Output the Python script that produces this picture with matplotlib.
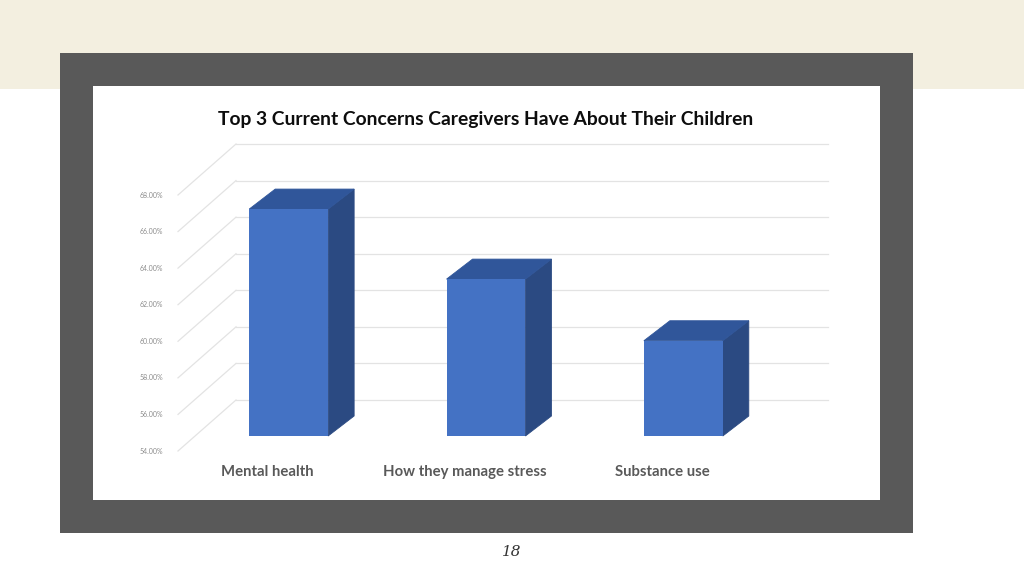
import matplotlib
matplotlib.use("Agg")
import matplotlib.pyplot as plt
from matplotlib.patches import Rectangle, Polygon
from matplotlib.transforms import ScaledTranslation

# ---- data ----
categories = ["Mental health", "How they manage stress", "Substance use"]
values = [66.41, 62.58, 59.21]
tick_values = [54, 56, 58, 60, 62, 64, 66, 68]
tick_labels = ["54.00%", "56.00%", "58.00%", "60.00%", "62.00%", "64.00%", "66.00%", "68.00%"]
title = "Top 3 Current Concerns Caregivers Have About Their Children"
page_number = "18"

W, H = 1024, 576
DPI = 100
fig = plt.figure(figsize=(W / DPI, H / DPI), dpi=DPI, facecolor="white")

def fx(px):
    return px / W

def fy(py):
    return 1 - py / H

def frect(x0, y0, x1, y1, color, z=0):
    fig.add_artist(Rectangle((fx(x0), fy(y1)), fx(x1) - fx(x0), fy(y0) - fy(y1),
                             transform=fig.transFigure, facecolor=color,
                             edgecolor="none", zorder=z))

# slide background
frect(0, 0, W, 89, "#F3EFE0", z=0)
frect(60, 53, 913, 533, "#595959", z=1)
frect(93, 86, 880, 500, "#FFFFFF", z=2)

# ---- plot axes (bar front plane) ----
ax_l, ax_r = 190, 782
ax_b, ax_t = 436, 180
ax = fig.add_axes([fx(ax_l), fy(ax_b), fx(ax_r) - fx(ax_l), fy(ax_t) - fy(ax_b)])
ax.set_zorder(3)
ax.patch.set_visible(False)
ax.set_axis_off()
ax.set_xlim(-0.5, 2.5)
ax.set_ylim(54, 68)

def shift(dx_px, dy_px):
    return ax.transData + ScaledTranslation(dx_px / DPI, dy_px / DPI, fig.dpi_scale_trans)

back = shift(46, 36)      # back wall plane
front = shift(-12, -15)   # label (front) plane

grid_c = "#E3E3E3"
xmin, xmax = ax.get_xlim()
for v in tick_values:
    ax.plot([xmin, xmax], [v, v], color=grid_c, lw=0.9, transform=back,
            zorder=1, clip_on=False)
    # diagonal side-wall line from front plane to back plane
    p0 = front.transform((xmin, v))
    p1 = back.transform((xmin, v))
    ax.plot([p0[0], p1[0]], [p0[1], p1[1]], color=grid_c, lw=0.9,
            transform=None, zorder=1, clip_on=False)

for v, lab in zip(tick_values, tick_labels):
    ax.text(xmin, v, lab, transform=front + ScaledTranslation(-15 / DPI, 0, fig.dpi_scale_trans),
            ha="right", va="center", fontsize=5, color="#8C8C8C", family="Lato")

# ---- 3D-looking bars ----
bar_w = 0.4
depth_dx, depth_dy = 26, 20  # pixels
c_front, c_top, c_side = "#4472C4", "#30569A", "#2B4A82"
base = ax.get_ylim()[0]
for i, v in enumerate(values):
    x0, x1 = i - bar_w / 2, i + bar_w / 2
    pts = ax.transData.transform([(x0, base), (x1, base), (x1, v), (x0, v)])
    (bl, br, tr, tl) = [tuple(p) for p in pts]
    def d(p):
        return (p[0] + depth_dx, p[1] + depth_dy)
    side = Polygon([br, tr, d(tr), d(br)], closed=True, facecolor=c_side,
                   edgecolor=c_side, lw=0.6, transform=None, zorder=4, clip_on=False)
    top = Polygon([tl, tr, d(tr), d(tl)], closed=True, facecolor=c_top,
                  edgecolor=c_top, lw=0.6, transform=None, zorder=4, clip_on=False)
    ax.add_patch(side)
    ax.add_patch(top)
    ax.add_patch(Rectangle((x0, base), bar_w, v - base, facecolor=c_front,
                           edgecolor="none", zorder=5, clip_on=False))

# category labels
for i, cat in enumerate(categories):
    ax.text(i, base, cat, transform=shift(-21, -36), ha="center", va="center",
            fontsize=10.7, color="#595959", family="Lato", fontweight="bold")

# title
fig.text(fx(486), fy(119), title, ha="center", va="center", fontsize=13.9,
         fontweight="bold", color="#0D0D0D", family="Lato", zorder=5)

# page number
fig.text(fx(512), fy(552), page_number, ha="center", va="center", fontsize=11,
         style="italic", color="#333333", family="DejaVu Serif")

fig.savefig("out.png", dpi=DPI, facecolor=fig.get_facecolor())
